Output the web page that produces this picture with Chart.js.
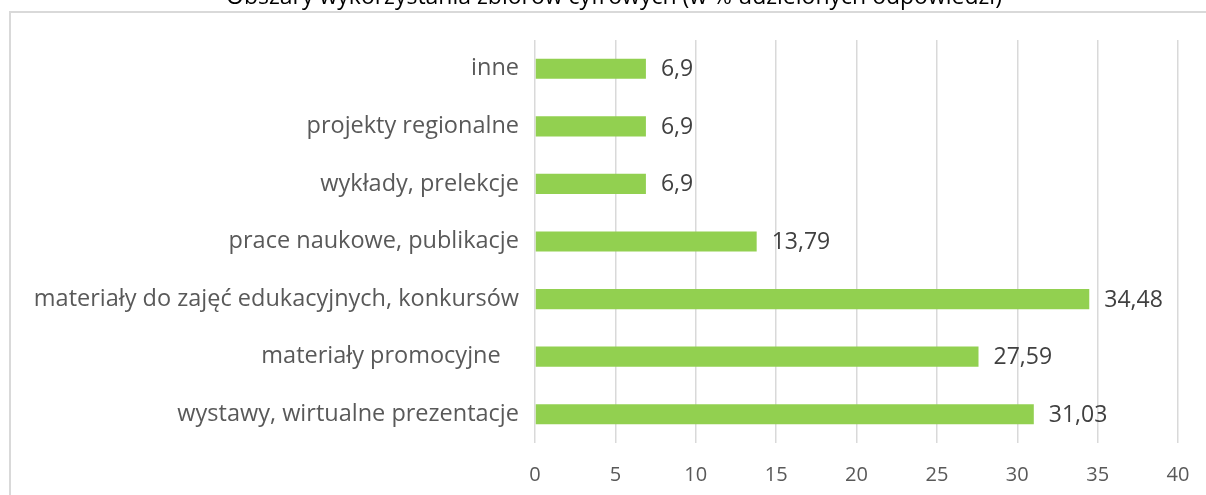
<!DOCTYPE html>
<html>
<head>
<meta charset="utf-8">
<script src="https://cdn.jsdelivr.net/npm/chart.js@4.4.1/dist/chart.umd.min.js"></script>
<style>
    html, body { margin: 0; padding: 0; background: #fff; overflow: hidden; width: 1206px; height: 495px; position: relative; }
    #frame { position: absolute; left: 9px; top: 11px; width: 1400px; height: 600px; border: 2px solid #d9d9d9; }
    #wrap { position: absolute; left: 4px; top: -20px; width: 1220px; height: 515px; }
</style>
</head>
<body>
<div id="frame"></div>
<div id="wrap"><canvas id="areasChart"></canvas></div>
<script>
// Obszary wykorzystania zbiorów cyfrowych
const categories = [
    'inne',
    'projekty regionalne',
    'wykłady, prelekcje',
    'prace naukowe, publikacje',
    'materiały do zajęć edukacyjnych, konkursów',
    'materiały promocyjne   ',
    'wystawy, wirtualne prezentacje'
];
const percentValues = [6.9, 6.9, 6.9, 13.79, 34.48, 27.59, 31.03];
const xTicks = [0, 5, 10, 15, 20, 25, 30, 35, 40];

const fontFamily = "'Open Sans', 'Noto Sans', sans-serif";

// draws "6,9" style labels right of each bar
const valueLabels = {
    id: 'valueLabels',
    afterDatasetsDraw(chart) {
        const ctx = chart.ctx;
        const meta = chart.getDatasetMeta(0);
        ctx.save();
        ctx.font = '23px ' + fontFamily;
        ctx.fillStyle = '#404040';
        ctx.textAlign = 'left';
        ctx.textBaseline = 'middle';
        meta.data.forEach((bar, i) => {
            const txt = String(percentValues[i]).replace('.', ',');
            ctx.fillText(txt, bar.x + 15, bar.y + 1);
        });
        ctx.restore();
    }
};

new Chart(document.getElementById('areasChart'), {
    type: 'bar',
    data: {
        labels: categories,
        datasets: [{
            data: percentValues,
            backgroundColor: '#92d050',
            borderWidth: 0,
            barPercentage: 0.35,
            categoryPercentage: 1
        }]
    },
    options: {
        indexAxis: 'y',
        responsive: true,
        maintainAspectRatio: false,
        animation: false,
        layout: { padding: 0 },
        scales: {
            x: {
                min: 0,
                max: 40,
                afterBuildTicks: (scale) => { scale.ticks = xTicks.map(v => ({ value: v })); },
                afterFit: (scale) => { scale.height = 52; },
                border: { display: false },
                grid: { color: '#d9d9d9', lineWidth: 1.5, drawTicks: false },
                ticks: {
                    color: '#595959',
                    padding: 20,
                    font: { family: fontFamily, size: 20 }
                }
            },
            y: {
                afterFit: (scale) => { scale.width = 531; },
                border: { display: false },
                grid: { display: false, drawTicks: false },
                ticks: {
                    color: '#595959',
                    padding: 16,
                    font: { family: fontFamily, size: 23.5 }
                }
            },
            // empty right-hand spacer so the title stays centred on the frame
            yRight: {
                type: 'category',
                position: 'right',
                afterFit: (scale) => { scale.width = 46; },
                border: { display: false },
                grid: { display: false, drawTicks: false },
                ticks: { display: false }
            }
        },
        plugins: {
            legend: { display: false },
            tooltip: { enabled: false },
            title: {
                display: true,
                text: 'Obszary wykorzystania zbiorów cyfrowych (w % udzielonych odpowiedzi)',
                color: '#000000',
                font: { family: fontFamily, size: 23, weight: 'normal' },
                padding: { top: 4, bottom: 28.4 }
            }
        }
    },
    plugins: [valueLabels]
});
</script>
</body>
</html>
